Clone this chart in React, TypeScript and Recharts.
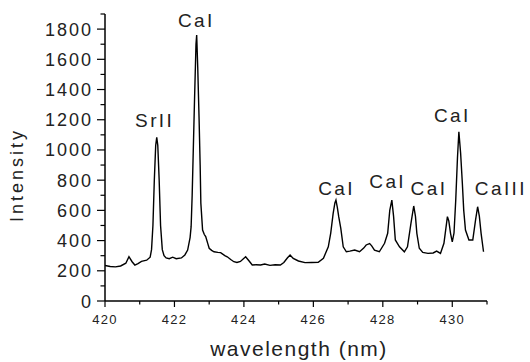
import { LineChart, Line, XAxis, YAxis, ReferenceDot, Label } from 'recharts'

const FONT = '"Liberation Sans", Arial, Helvetica, sans-serif'

// spectrum (nm, counts)
const wavelength = [
  420.0, 420.15, 420.3, 420.45, 420.6, 420.69, 420.78, 420.86, 420.95, 421.05,
  421.2, 421.3, 421.34, 421.38, 421.42, 421.46, 421.49, 421.52, 421.56, 421.6,
  421.65, 421.7, 421.76, 421.85, 421.95, 422.05, 422.2, 422.3, 422.38, 422.45,
  422.48, 422.51, 422.54, 422.58, 422.62, 422.64, 422.67, 422.71, 422.74, 422.76,
  422.81, 422.86, 422.9, 422.96, 423.0, 423.07, 423.14, 423.25, 423.33, 423.45,
  423.52, 423.62, 423.71, 423.8, 423.9, 424.05, 424.15, 424.24, 424.35, 424.48,
  424.6, 424.75, 424.9, 425.05, 425.15, 425.25, 425.33, 425.42, 425.57, 425.76,
  425.95, 426.14, 426.29, 426.43, 426.5, 426.57, 426.62, 426.65, 426.69, 426.73,
  426.79, 426.86, 426.95, 427.05, 427.19, 427.33, 427.45, 427.52, 427.62, 427.68,
  427.76, 427.9, 428.05, 428.14, 428.2, 428.26, 428.31, 428.36, 428.48, 428.62,
  428.71, 428.81, 428.89, 428.94, 428.98, 429.05, 429.15, 429.3, 429.45, 429.55,
  429.66, 429.76, 429.86, 429.9, 429.95, 430.0, 430.05, 430.1, 430.15, 430.19,
  430.24, 430.29, 430.33, 430.38, 430.48, 430.59, 430.67, 430.73, 430.78, 430.83,
  430.9,
]
const intensity = [
  235, 228, 226, 232, 250, 293, 260, 238, 248, 262,
  270, 290, 340, 500, 800, 1030, 1083, 1030, 800, 500,
  340, 300, 285, 280, 290, 280, 285, 305, 337, 420,
  492, 700, 979, 1350, 1700, 1760, 1550, 1198, 900, 648,
  470, 440, 426, 380, 349, 335, 326, 322, 320, 300,
  293, 275, 260, 255, 262, 293, 265, 238, 240, 238,
  245, 236, 240, 238, 255, 285, 304, 282, 265, 254,
  255, 256, 283, 359, 450, 580, 650, 668, 620, 558,
  481, 359, 326, 330, 337, 326, 350, 371, 380, 365,
  337, 326, 382, 448, 600, 668, 560, 404, 359, 326,
  359, 514, 629, 560, 448, 349, 322, 315, 318, 330,
  315, 382, 558, 530, 448, 392, 450, 668, 950, 1120,
  980, 779, 600, 470, 404, 404, 536, 624, 560, 448,
  326,
]

const xTicks = [420, 421, 422, 423, 424, 425, 426, 427, 428, 429, 430, 431]
const yTicks = [0, 100, 200, 300, 400, 500, 600, 700, 800, 900, 1000, 1100, 1200, 1300, 1400, 1500, 1600, 1700, 1800, 1900]

// line identifications
const lineNames = ['SrII', 'CaI', 'CaI', 'CaI', 'CaI', 'CaI', 'CaIII']
const lineX = [421.43, 422.63, 426.67, 428.14, 429.33, 430.0, 431.4]
const lineY = [1152, 1813, 702, 748, 702, 1185, 702]

const rows = wavelength.map((wl, i) => ({ wl, counts: intensity[i] }))

function XTick({ x, y, payload }: any) {
  const major = payload.value % 2 === 0
  return (
    <g>
      <line x1={x} x2={x} y1={y} y2={y + (major ? 6 : 3.5)} stroke="#000" strokeWidth={1.2} />
      {major && (
        <text x={x} y={y + 23} textAnchor="middle" fontSize={13} letterSpacing={1.3} fill="#222" fontFamily={FONT}>
          {payload.value}
        </text>
      )}
    </g>
  )
}

function YTick({ x, y, payload }: any) {
  const major = payload.value % 200 === 0
  return (
    <g>
      <line x1={x - (major ? 8 : 4.5)} x2={x} y1={y} y2={y} stroke="#000" strokeWidth={1.2} />
      {major && (
        <text x={x - 12} y={y + 6.5} textAnchor="end" fontSize={18} letterSpacing={2} fill="#222" fontFamily={FONT}>
          {payload.value}
        </text>
      )}
    </g>
  )
}

function YTitle({ viewBox }: any) {
  const tx = viewBox.x + 22.5
  const ty = viewBox.y + 161
  return (
    <text x={tx} y={ty} transform={`rotate(-90 ${tx} ${ty})`} textAnchor="middle" fontSize={18} letterSpacing={3} fill="#222" fontFamily={FONT}>
      Intensity
    </text>
  )
}

function XTitle({ viewBox }: any) {
  return (
    <text x={viewBox.x + viewBox.width / 2 + 3} y={viewBox.y + 55} textAnchor="middle" fontSize={21} letterSpacing={1.5} fill="#222" fontFamily={FONT}>
      wavelength (nm)
    </text>
  )
}

export default function App() {
  return (
    <div style={{ position: 'absolute', left: 0, top: 0, background: '#fff' }}>
      <LineChart width={530} height={362} data={rows} margin={{ top: 14, right: 43, bottom: 0, left: 0 }}>
        <XAxis
          dataKey="wl"
          type="number"
          domain={[420, 431]}
          ticks={xTicks}
          interval={0}
          tick={<XTick />}
          tickLine={false}
          tickSize={0}
          tickMargin={0}
          height={61}
          axisLine={{ stroke: '#000', strokeWidth: 1.5 }}
          allowDataOverflow
        >
          <Label content={<XTitle />} />
        </XAxis>
        <YAxis
          type="number"
          domain={[0, 1900]}
          ticks={yTicks}
          interval={0}
          tick={<YTick />}
          tickLine={false}
          tickSize={0}
          tickMargin={0}
          width={105}
          axisLine={{ stroke: '#000', strokeWidth: 1.5 }}
          allowDataOverflow
        >
          <Label content={<YTitle />} />
        </YAxis>
        <Line
          type="linear"
          dataKey="counts"
          stroke="#000"
          strokeWidth={1.4}
          dot={false}
          isAnimationActive={false}
        />
        {lineNames.map((name, i) => (
          <ReferenceDot
            key={i}
            x={lineX[i]}
            y={lineY[i]}
            r={0}
            ifOverflow="visible"
            shape={(p: any) => (
              <text x={p.cx} y={p.cy} textAnchor="middle" fontSize={19} letterSpacing={2.4} fill="#222" fontFamily={FONT}>
                {name}
              </text>
            )}
          />
        ))}
      </LineChart>
    </div>
  )
}
